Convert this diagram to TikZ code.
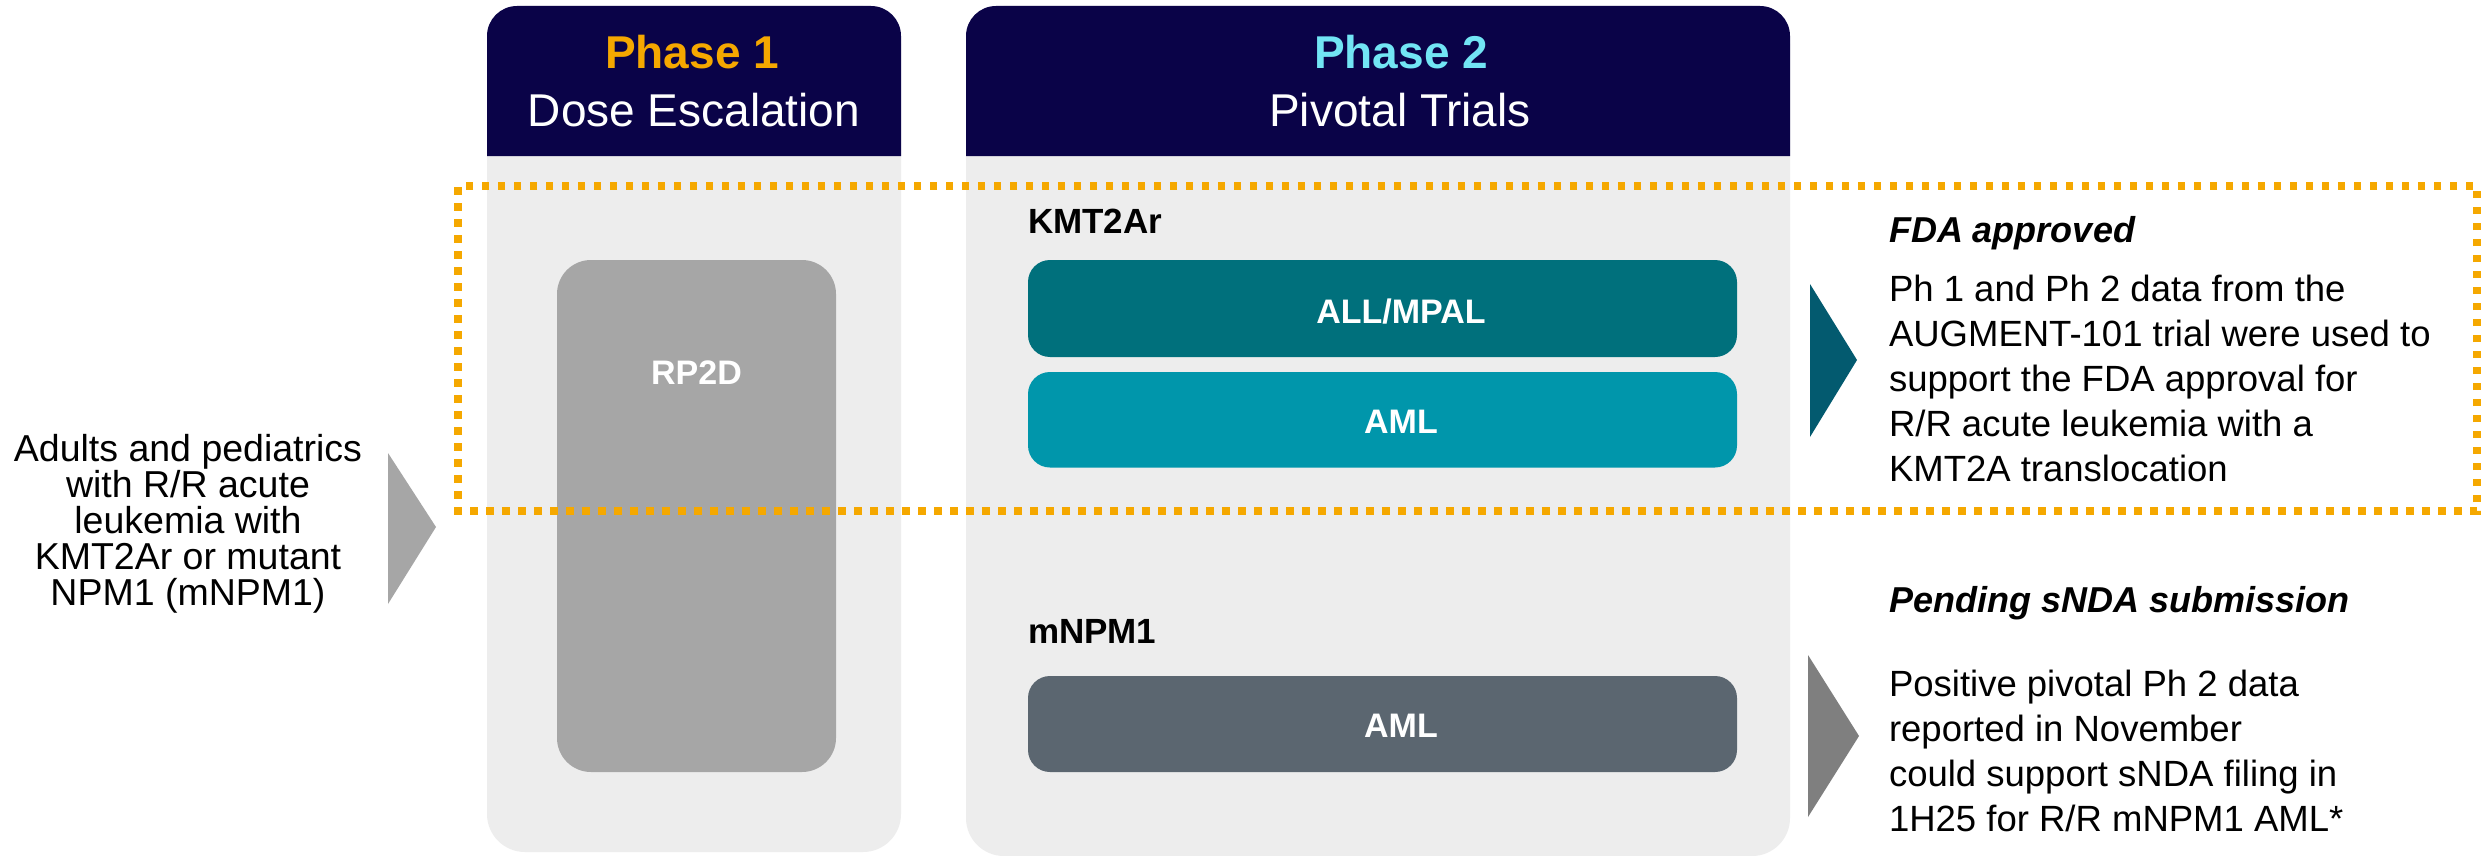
\documentclass[tikz,border=0pt]{standalone}
\usepackage{fontspec}
\setmainfont{Liberation Sans}
\definecolor{navy}{HTML}{0A0348}
\definecolor{phone}{HTML}{F5A800}
\definecolor{phtwo}{HTML}{72E5F4}
\definecolor{colbg}{HTML}{EDEDED}
\definecolor{rpgray}{HTML}{A6A6A6}
\definecolor{tealdark}{HTML}{00707C}
\definecolor{tealmid}{HTML}{0096AB}
\definecolor{slate}{HTML}{5B6670}
\definecolor{arrowteal}{HTML}{035A6F}
\definecolor{arrowgray}{HTML}{7F7F7F}
\definecolor{leftgray}{HTML}{A6A6A6}
\definecolor{dotorange}{HTML}{F5A800}
\tikzset{
  colnode/.style={draw=none, fill=colbg, rounded corners=38pt, inner sep=0pt},
  boxnode/.style={draw=none, inner sep=0pt},
  txt/.style={inner sep=0pt, outer sep=0pt},
  hdrbold/.style={txt, font=\fontsize{46pt}{50pt}\selectfont\bfseries},
  hdrreg/.style={txt, text=white, font=\fontsize{46pt}{50pt}\selectfont},
  boxlabel/.style={txt, text=white, font=\fontsize{34pt}{38pt}\selectfont\bfseries},
  grouplabel/.style={txt, text=black, font=\fontsize{35pt}{38pt}\selectfont\bfseries},
  headit/.style={txt, text=black, font=\fontsize{36pt}{40pt}\selectfont\bfseries\itshape},
  bodytxt/.style={txt, text=black, align=left, font=\fontsize{36.5pt}{45pt}\selectfont},
  lefttxt/.style={txt, text=black, align=center, font=\fontsize{37.5pt}{36pt}\selectfont},
  dotbox/.style={draw=dotorange, line width=7.5pt, dash pattern=on 7.5pt off 8.5pt, dash phase=-1pt}
}
\begin{document}
\begin{tikzpicture}[x=1pt, y=-1pt]
\useasboundingbox (0,0) rectangle (2481,856);
\fill[white] (0,0) rectangle (2481,856);

% columns
\node[colnode, minimum width=414pt, minimum height=846pt] (col1) at (694,429) {};
\node[colnode, minimum width=824pt, minimum height=850pt] (col2) at (1378,431) {};
\fill[navy] (487,156) [rounded corners=30pt] -- (487,6) -- (901,6) [sharp corners] -- (901,156) -- cycle;
\fill[navy] (966,156) [rounded corners=30pt] -- (966,6) -- (1790,6) [sharp corners] -- (1790,156) -- cycle;

% headers
\node[hdrbold, text=phone, anchor=base] (p1title) at (692,69) {Phase 1};
\node[hdrreg, anchor=base] (p1sub) at (694,127) {Dose Escalation};
\node[hdrbold, text=phtwo, anchor=base] (p2title) at (1401,69) {Phase 2};
\node[hdrreg, anchor=base] (p2sub) at (1400,127) {Pivotal Trials};

% inner boxes
\node[boxnode, fill=rpgray, rounded corners=34pt, minimum width=279pt, minimum height=512pt] (rp2d) at (696.5,516) {};
\node[boxlabel, anchor=base] (rp2dlab) at (696.5,384.6) {RP2D};

\node[boxnode, fill=tealdark, rounded corners=22pt, minimum width=709pt, minimum height=97pt] (allmpal) at (1382.5,308.5) {};
\node[boxlabel, anchor=base] (allmpallab) at (1401,323) {ALL/MPAL};

\node[boxnode, fill=tealmid, rounded corners=22pt, minimum width=709pt, minimum height=95.5pt] (amlone) at (1382.5,419.75) {};
\node[boxlabel, anchor=base] (amlonelab) at (1401,433.3) {AML};

\node[boxnode, fill=slate, rounded corners=22pt, minimum width=709pt, minimum height=96pt] (amltwo) at (1382.5,724) {};
\node[boxlabel, anchor=base] (amltwolab) at (1401,737.8) {AML};

\node[grouplabel, anchor=base west] (kmt) at (1028,233) {KMT2Ar};
\node[grouplabel, anchor=base west] (mnpm) at (1028,643) {mNPM1};

% arrows (triangles)
\fill[leftgray] (388,453) -- (436,527) -- (388,604) -- cycle;
\fill[arrowteal] (1810,284) -- (1857,360) -- (1810,437) -- cycle;
\fill[arrowgray] (1808,655) -- (1859,736) -- (1808,817) -- cycle;

% left text
\node[lefttxt, anchor=north] (pop) at (188,434.8) {Adults and pediatrics\\with R/R acute\\leukemia with\\KMT2Ar or mutant\\NPM1 (mNPM1)};

% right texts
\node[headit, anchor=base west] (fda) at (1889,242) {FDA approved};
\node[bodytxt, anchor=north west] (fdabody) at (1889,274.6) {Ph 1 and Ph 2 data from the\\AUGMENT-101 trial were used to\\support the FDA approval for\\R/R acute leukemia with a\\KMT2A translocation};
\node[headit, anchor=base west] (pend) at (1889,612) {Pending sNDA submission};
\node[bodytxt, anchor=north west] (pendbody) at (1889,669.6) {Positive pivotal Ph 2 data\\reported in November\\could support sNDA filing in\\1H25 for R/R mNPM1 AML*};

% dotted box
\draw[dotbox] (458,186) rectangle (2477,511);
\end{tikzpicture}
\end{document}
